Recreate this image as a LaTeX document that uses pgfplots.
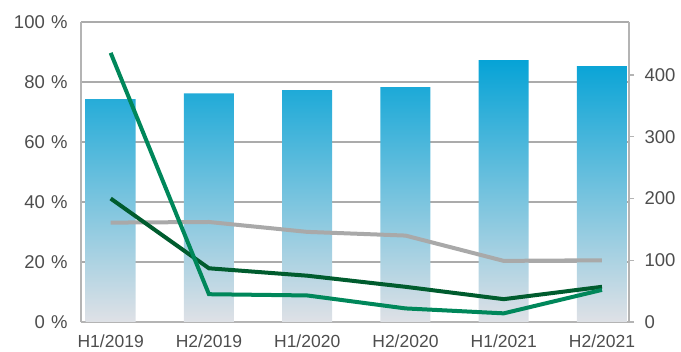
\documentclass[border=0pt]{standalone}
\usepackage{pgfplots}
\pgfplotsset{compat=1.18}
\usepackage{fontspec}
\setmainfont{Liberation Sans}
\definecolor{barTop}{HTML}{06A3D6}
\definecolor{barBot}{HTML}{DFE1E6}
\definecolor{gridc}{HTML}{ABABAB}
\definecolor{axisc}{HTML}{B4B4B4}
\definecolor{txt}{HTML}{4D4D4D}
\definecolor{lgray}{HTML}{A9A9A9}
\definecolor{dgreen}{HTML}{005C2E}
\definecolor{mgreen}{HTML}{00875A}
\pgfplotstableread{
x bar
0 74.3
1 76.2
2 77.3
3 78.3
4 87.3
5 85.3
}\bars
\pgfplotstableread{
x gray dark green
0 161 200 436
1 162 87 45
2 146 75 43
3 140 57 22
4 99 37 14
5 100 57 52
}\lines
\begin{document}
\begin{tikzpicture}
\useasboundingbox (0,0) rectangle (681pt,352pt);
\begin{axis}[
  at={(81pt,30pt)}, anchor=south west,
  scale only axis, width=548pt, height=300pt,
  xmin=-0.302, xmax=5.275, ymin=0, ymax=100,
  axis y line*=left, axis x line*=bottom,
  axis line style={axisc, line width=1.2pt},
  ytick={0,20,40,60,80,100},
  yticklabels={0\,\,\%,20\,\,\%,40\,\,\%,60\,\,\%,80\,\,\%,100\,\,\%},
  xtick={0,...,5},
  xticklabels={H1/2019,H2/2019,H1/2020,H2/2020,H1/2021,H2/2021},
  ymajorgrids, grid style={gridc, line width=1.2pt},
  major tick length=0pt,
  tick label style={txt, font=\fontsize{17.5}{20}\selectfont},
  yticklabel style={xshift=-10pt, font=\fontsize{18.5}{20}\selectfont},
  xticklabel style={yshift=-9pt},
]
\addplot[ybar, bar width=50pt, draw=none, top color=barTop, bottom color=barBot] table[x=x, y=bar] {\bars};
\end{axis}
\begin{axis}[
  at={(81pt,30pt)}, anchor=south west,
  scale only axis, width=548pt, height=300pt,
  xmin=-0.302, xmax=5.275, ymin=0, ymax=486,
  axis y line*=right, axis x line=none,
  axis line style={axisc, line width=1.2pt},
  ytick={0,100,200,300,400},
  /pgf/number format/assume math mode=true,
  major tick length=5pt, tick align=outside,
  tick style={axisc, line width=1.2pt},
  tick label style={txt, font=\fontsize{18.5}{20}\selectfont},
  yticklabel style={xshift=7pt},
]
\addplot[lgray, line width=4pt] table[x=x, y=gray] {\lines};
\addplot[dgreen, line width=4pt] table[x=x, y=dark] {\lines};
\addplot[mgreen, line width=4pt] table[x=x, y=green] {\lines};
\end{axis}
\end{tikzpicture}
\end{document}
